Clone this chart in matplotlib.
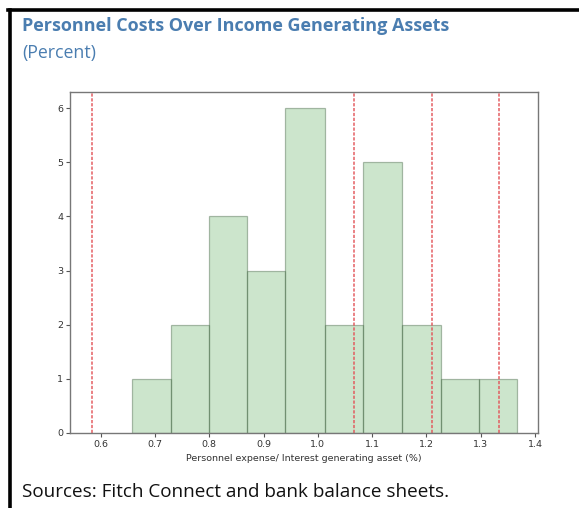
import numpy as np
import matplotlib
matplotlib.use("Agg")
import matplotlib.pyplot as plt
from matplotlib.lines import Line2D

# Histogram of personnel expense / interest generating assets (%)
bin_edges = [0.658, 0.729, 0.800, 0.870, 0.940, 1.013, 1.084, 1.155, 1.226, 1.296, 1.367]
bank_counts = [1, 2, 4, 3, 6, 2, 5, 2, 1, 1]
# Reference thresholds drawn as dashed vertical lines
threshold_lines = [0.584, 1.066, 1.211, 1.334]

x_ticks = [0.6, 0.7, 0.8, 0.9, 1.0, 1.1, 1.2, 1.3, 1.4]
y_ticks = [0, 1, 2, 3, 4, 5, 6]

title = "Personnel Costs Over Income Generating Assets"
subtitle = "(Percent)"
x_label = "Personnel expense/ Interest generating asset (%)"
source = "Sources: Fitch Connect and bank balance sheets."

W, H = 579, 508
fig = plt.figure(figsize=(W / 100, H / 100), dpi=100)
fig.patch.set_facecolor("white")

ax = fig.add_axes([70 / W, 1 - 433 / H, (538 - 70) / W, (433 - 92) / H])

centers = [(a + b) / 2 for a, b in zip(bin_edges[:-1], bin_edges[1:])]
ax.hist(centers, bins=bin_edges, weights=bank_counts,
        facecolor=(0.0, 0.5, 0.0, 0.2), edgecolor=(0.3, 0.42, 0.3, 0.45),
        linewidth=0.9)

for v in threshold_lines:
    ax.axvline(v, color="#e3555a", alpha=0.8, linewidth=1.3,
               linestyle=(0, (1.8, 0.9)))

ax.set_xlim(0.5435, 1.4055)
ax.set_ylim(0, 6.3)
ax.set_xticks(x_ticks)
ax.set_xticklabels([f"{t:.1f}" for t in x_ticks])
ax.set_yticks(y_ticks)
ax.tick_params(labelsize=6.8, colors="#555555", labelcolor="#333333",
               length=3, width=0.8, pad=2)
for s in ax.spines.values():
    s.set_color("#777777")
    s.set_linewidth(1.0)
ax.set_xlabel(x_label, fontsize=6.8, color="#333333", labelpad=3.5)

# Panel frame (left and top rules)
fig.add_artist(Line2D([9.5 / W, 9.5 / W], [0, 1 - 9.5 / H], color="black",
                      linewidth=2.6, transform=fig.transFigure))
fig.add_artist(Line2D([8 / W, 1], [1 - 9.5 / H, 1 - 9.5 / H], color="black",
                      linewidth=2.6, transform=fig.transFigure))

title_color = "#4a7db0"
fig.text(22 / W, 1 - 26 / H, title, fontsize=12.95, fontweight="bold",
         color=title_color, family="Open Sans", va="center", ha="left")
fig.text(22 / W, 1 - 53 / H, subtitle, fontsize=12.8, color=title_color,
         family="Open Sans", va="center", ha="left")
fig.text(22 / W, 1 - 492 / H, source, fontsize=13.6, color="#111111",
         family="Open Sans", va="center", ha="left")

fig.savefig("out.png", dpi=100, facecolor="white")
